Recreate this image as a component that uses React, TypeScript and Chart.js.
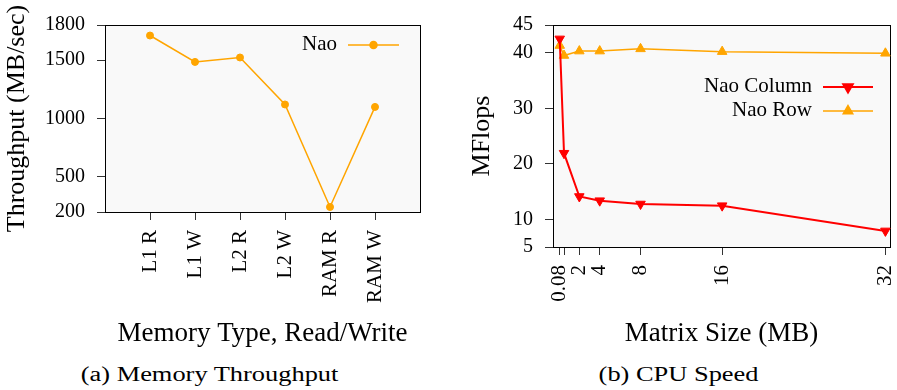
import React, { useEffect, useRef } from 'react';
import { Chart, registerables } from 'chart.js';
import { drawPoint } from 'chart.js/helpers';

Chart.register(...registerables);

// ---- Data: (a) Memory Throughput ----
const memoryTypes = ['L1 R', 'L1 W', 'L2 R', 'L2 W', 'RAM R', 'RAM W'];
const memoryPositions = [1, 2, 3, 4, 5, 6];
const naoThroughput = [1710, 1484, 1522, 1120, 243, 1099];
const throughputTicks = [200, 500, 1000, 1500, 1800];

// ---- Data: (b) CPU Speed ----
const matrixSizes = [0.08, 0.5, 2, 4, 8, 16, 32];
const matrixSizeLabels = ['0.08', '', '2', '4', '8', '16', '32'];
const naoColumn = [42.5, 21.9, 14.1, 13.35, 12.75, 12.45, 7.9];
const naoRow = [41.3, 39.5, 40.3, 40.3, 40.7, 40.2, 39.9];
const mflopsTicks = [5, 10, 20, 30, 40, 45];

const SERIF = "'Liberation Serif'";
const ORANGE = '#FFA500';
const RED = '#FF0000';

const framePlugin = {
  id: 'frame',
  beforeDraw(chart: any) {
    const { ctx, chartArea: a } = chart;
    ctx.save();
    ctx.fillStyle = '#f9f9f9';
    ctx.fillRect(a.left, a.top, a.right - a.left, a.bottom - a.top);
    ctx.restore();
  },
  beforeDatasetsDraw(chart: any) {
    const { ctx, chartArea: a } = chart;
    ctx.save();
    ctx.strokeStyle = '#000';
    ctx.lineWidth = 1;
    ctx.strokeRect(Math.round(a.left) + 0.5, Math.round(a.top) + 0.5, Math.round(a.right - a.left), Math.round(a.bottom - a.top));
    ctx.restore();
  },
};

const sideLegendPlugin = {
  id: 'sideLegend',
  afterDatasetsDraw(chart: any, _args: any, opts: any) {
    const { ctx } = chart;
    chart.data.datasets.forEach((ds: any, i: number) => {
      const y = opts.rows[i];
      ctx.save();
      ctx.font = `${opts.fontSize}px ${SERIF}`;
      ctx.fillStyle = '#000';
      ctx.textAlign = 'right';
      ctx.textBaseline = 'middle';
      ctx.fillText(ds.label, opts.textRight, y - 1);
      ctx.strokeStyle = ds.borderColor;
      ctx.lineWidth = ds.borderWidth;
      ctx.beginPath();
      ctx.moveTo(opts.lineStart, y);
      ctx.lineTo(opts.lineEnd, y);
      ctx.stroke();
      ctx.fillStyle = ds.pointBackgroundColor;
      ctx.strokeStyle = ds.pointBorderColor;
      drawPoint(ctx, {
        pointStyle: ds.pointStyle,
        rotation: ds.pointRotation || 0,
        radius: ds.pointRadius,
        borderWidth: ds.pointBorderWidth,
      } as any, (opts.lineStart + opts.lineEnd) / 2, y);
      ctx.restore();
    });
  },
};

function yScale(ticks: number[], min: number, max: number, title: string, titlePad: number, width: number) {
  return {
    type: 'linear',
    min,
    max,
    afterBuildTicks: (s: any) => {
      s.ticks = ticks.map((v) => ({ value: v }));
    },
    afterFit: (s: any) => {
      s.width = width;
      s.paddingTop = 0;
      s.paddingBottom = 0;
    },
    ticks: {
      font: { family: SERIF, size: 20 },
      color: '#000',
      padding: 12,
      autoSkip: false,
      callback: (v: any) => String(v),
    },
    grid: { drawOnChartArea: false, drawTicks: true, tickLength: 8, color: '#333', lineWidth: 1 },
    border: { display: true, color: '#000', width: 1 },
    title: {
      display: true,
      text: title,
      color: '#000',
      font: { family: SERIF, size: 26 },
      padding: { top: titlePad, bottom: 0 },
    },
  };
}

function xScale(positions: number[], labels: string[], min: number, max: number, title: string, height: number, titleSize: number) {
  return {
    type: 'linear',
    min,
    max,
    afterBuildTicks: (s: any) => {
      s.ticks = positions.map((v) => ({ value: v }));
    },
    afterFit: (s: any) => {
      s.height = height;
      s.paddingLeft = 0;
      s.paddingRight = 0;
    },
    ticks: {
      font: { family: SERIF, size: 21 },
      color: '#000',
      padding: 10,
      autoSkip: false,
      minRotation: 90,
      maxRotation: 90,
      callback: (_v: any, i: number) => labels[i],
    },
    grid: { drawOnChartArea: false, drawTicks: true, tickLength: 8, color: '#333', lineWidth: 1 },
    border: { display: true, color: '#000', width: 1 },
    title: {
      display: true,
      text: title,
      color: '#000',
      font: { family: SERIF, size: titleSize },
      padding: { top: 0, bottom: 0 },
    },
  };
}

export default function App() {
  const leftRef = useRef<HTMLCanvasElement>(null);
  const rightRef = useRef<HTMLCanvasElement>(null);

  useEffect(() => {
    const left = new Chart(leftRef.current!, {
      type: 'line',
      data: {
        datasets: [
          {
            label: 'Nao',
            data: memoryPositions.map((x, i) => ({ x, y: naoThroughput[i] })),
            borderColor: ORANGE,
            backgroundColor: ORANGE,
            borderWidth: 1.5,
            pointStyle: 'circle',
            pointRadius: 3.5,
            pointBorderWidth: 1,
            pointBackgroundColor: ORANGE,
            pointBorderColor: ORANGE,
            tension: 0,
            clip: false,
          } as any,
        ],
      },
      options: {
        responsive: false,
        animation: false,
        devicePixelRatio: 1,
        layout: { padding: { left: 0, right: 25, top: 25, bottom: 0 } },
        plugins: {
          legend: { display: false },
          tooltip: { enabled: false },
          sideLegend: { rows: [45], textRight: 337, lineStart: 348, lineEnd: 399, fontSize: 21 },
        } as any,
        scales: {
          x: xScale(memoryPositions, memoryTypes, 0, 7, 'Memory Type, Read/Write', 138, 27) as any,
          y: yScale(throughputTicks, 200, 1800, 'Throughput (MB/sec)', 2, 105) as any,
        },
      },
      plugins: [framePlugin, sideLegendPlugin],
    });

    const right = new Chart(rightRef.current!, {
      type: 'line',
      data: {
        datasets: [
          {
            label: 'Nao Column',
            data: matrixSizes.map((x, i) => ({ x, y: naoColumn[i] })),
            borderColor: RED,
            backgroundColor: RED,
            borderWidth: 2,
            pointStyle: 'triangle',
            pointRotation: 180,
            pointRadius: 5.5,
            pointBorderWidth: 1,
            pointBackgroundColor: RED,
            pointBorderColor: RED,
            tension: 0,
            clip: false,
          } as any,
          {
            label: 'Nao Row',
            data: matrixSizes.map((x, i) => ({ x, y: naoRow[i] })),
            borderColor: ORANGE,
            backgroundColor: ORANGE,
            borderWidth: 1.5,
            pointStyle: 'triangle',
            pointRotation: 0,
            pointRadius: 5.5,
            pointBorderWidth: 1,
            pointBackgroundColor: ORANGE,
            pointBorderColor: ORANGE,
            tension: 0,
            clip: false,
          } as any,
        ],
      },
      options: {
        responsive: false,
        animation: false,
        devicePixelRatio: 1,
        layout: { padding: { left: 0, right: 7, top: 25, bottom: 0 } },
        plugins: {
          legend: { display: false },
          tooltip: { enabled: false },
          sideLegend: { rows: [87, 111], textRight: 367, lineStart: 378, lineEnd: 428, fontSize: 21 },
        } as any,
        scales: {
          x: xScale(matrixSizes, matrixSizeLabels, -0.58, 32.45, 'Matrix Size (MB)', 103, 27) as any,
          y: yScale(mflopsTicks, 5, 45, 'MFlops', 22, 108) as any,
        },
      },
      plugins: [framePlugin, sideLegendPlugin],
    });

    return () => {
      left.destroy();
      right.destroy();
    };
  }, []);

  const captionStyle: React.CSSProperties = {
    position: 'absolute',
    top: 364,
    height: 22,
    textAlign: 'center',
    fontFamily: SERIF,
    fontSize: 20,
    lineHeight: '20px',
    color: '#000',
    whiteSpace: 'nowrap',
  };
  const spanStyle: React.CSSProperties = {
    display: 'inline-block',
    transform: 'scaleX(1.32)',
    transformOrigin: 'center',
  };

  return (
    <div style={{ position: 'absolute', left: 0, top: 0, width: 897, height: 390, background: '#fff', overflow: 'hidden' }}>
      <canvas ref={leftRef} width={445} height={350} style={{ position: 'absolute', left: 0, top: 0, display: 'block' }} />
      <canvas ref={rightRef} width={452} height={350} style={{ position: 'absolute', left: 445, top: 0, display: 'block' }} />
      <div style={{ ...captionStyle, left: 0, width: 419 }}>
        <span style={spanStyle}>(a) Memory Throughput</span>
      </div>
      <div style={{ ...captionStyle, left: 460, width: 437 }}>
        <span style={spanStyle}>(b) CPU Speed</span>
      </div>
    </div>
  );
}
